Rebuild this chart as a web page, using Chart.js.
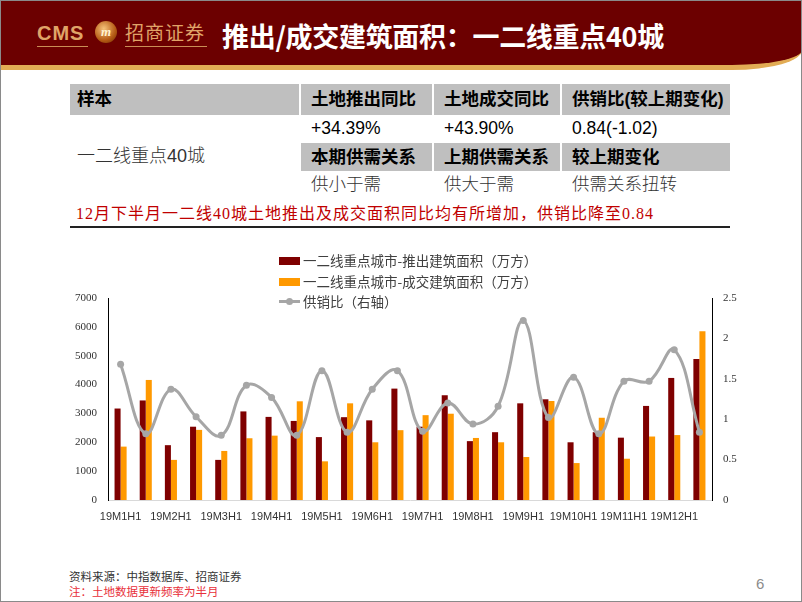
<!DOCTYPE html>
<html>
<head>
<meta charset="utf-8">
<script src="https://cdn.jsdelivr.net/npm/chart.js@4.4.1/dist/chart.umd.min.js"></script>
<style>
  html, body { margin: 0; padding: 0; }
  body {
    width: 802px; height: 602px; position: relative; overflow: hidden; background: #fff;
    font-family: "Liberation Sans", "Noto Sans CJK SC", sans-serif;
  }
  .abs { position: absolute; white-space: nowrap; }
  .frame { left: 0; top: 0; width: 800px; height: 600px; border: 1px solid #8a8a8a; }
  .band {
    left: 0; top: 0; width: 802px; height: 65px; background: #6c0000;
    border-bottom: 5px solid #e2ac55; border-bottom-right-radius: 70px 20px;
  }
  .cms { left: 37px; top: 21px; font: bold 20px "Liberation Sans"; color: #e0a468; letter-spacing: 1px; line-height: 24px; }
  .emblem {
    left: 95px; top: 21px; width: 22px; height: 22px; border-radius: 50%;
    background: radial-gradient(circle at 40% 35%, #f6c27a, #b55a14 60%, #6a2a00);
    color: #fff3d0; font: italic bold 13px "Liberation Serif"; text-align: center; line-height: 22px;
  }
  .zs { left: 125px; top: 20px; font: 19px "Noto Sans CJK SC"; color: #e0a468; line-height: 24px; letter-spacing: 1px; }
  .uline { height: 1px; background: #c98e55; top: 46px; }
  .title { left: 222px; top: 18px; font: bold 27px "Noto Sans CJK SC"; color: #fff; line-height: 36px; letter-spacing: -0.3px; }
  .cell { font-size: 17.5px; line-height: 28px; padding-left: 10px; box-sizing: border-box; color: #000; }
  .gray { background: #bfbfbf; }
  .hd { font-weight: bold; }
  .lt { font-weight: 300; color: #333; }
  .note { left: 76px; top: 203px; font: 16px "Liberation Serif", "Noto Sans CJK SC"; color: #c00000; letter-spacing: 1px; line-height: 22px; }
  .rule { left: 70px; top: 226px; width: 660px; height: 2px; background: #222; }
  .legend { left: 279px; font-size: 13.5px; color: #404040; line-height: 18px; font-family: "Noto Sans CJK SC"; }
  .legend i { display: inline-block; width: 21px; height: 8px; margin-right: 3px; vertical-align: 1px; }
  .legend b { display: inline-block; position: relative; width: 21px; height: 3px; background: #a6a6a6; margin-right: 3px; vertical-align: 4px; }
  .legend b:after { content: ""; position: absolute; left: 7px; top: -2.5px; width: 7px; height: 7px; border-radius: 50%; background: #a6a6a6; }
  .src { left: 69px; font: 11.5px "Liberation Serif", "Noto Sans CJK SC"; line-height: 14px; }
  #chart { position: absolute; left: 0; top: 240px; }
</style>
</head>
<body>
<div class="abs band"></div>
<div class="abs cms">CMS</div>
<div class="abs uline" style="left:37px;width:51px"></div>
<div class="abs emblem">m</div>
<div class="abs zs">招商证券</div>
<div class="abs uline" style="left:125px;width:82px"></div>
<div class="abs title">推出/成交建筑面积：一二线重点40城</div>

<div class="abs cell gray hd" style="left:70px;top:84px;width:229px;height:31px;line-height:31px;padding-left:7px">样本</div>
<div class="abs cell gray hd" style="left:301px;top:84px;width:131px;height:31px;line-height:31px">土地推出同比</div>
<div class="abs cell gray hd" style="left:434px;top:84px;width:126px;height:31px;line-height:31px">土地成交同比</div>
<div class="abs cell gray hd" style="left:562px;top:84px;width:168px;height:31px;line-height:31px">供销比(较上期变化)</div>

<div class="abs cell" style="left:301px;top:114px;width:131px">+34.39%</div>
<div class="abs cell" style="left:434px;top:114px;width:126px">+43.90%</div>
<div class="abs cell" style="left:562px;top:114px;width:168px">0.84(-1.02)</div>

<div class="abs cell lt" style="left:70px;top:142px;width:229px;padding-left:7px;font-size:18px">一二线重点40城</div>

<div class="abs cell gray hd" style="left:301px;top:143px;width:131px">本期供需关系</div>
<div class="abs cell gray hd" style="left:434px;top:143px;width:126px">上期供需关系</div>
<div class="abs cell gray hd" style="left:562px;top:143px;width:168px">较上期变化</div>

<div class="abs cell lt" style="left:301px;top:170px;width:131px">供小于需</div>
<div class="abs cell lt" style="left:434px;top:170px;width:126px">供大于需</div>
<div class="abs cell lt" style="left:562px;top:170px;width:168px">供需关系扭转</div>

<div class="abs note">12月下半月一二线40城土地推出及成交面积同比均有所增加，供销比降至0.84</div>
<div class="abs rule"></div>

<canvas id="chart" width="802" height="295"></canvas>

<div class="abs legend" style="top:251px"><i style="background:#7f0000"></i>一二线重点城市-推出建筑面积（万方）</div>
<div class="abs legend" style="top:272px"><i style="background:#ff9900"></i>一二线重点城市-成交建筑面积（万方）</div>
<div class="abs legend" style="top:292px"><b></b>供销比（右轴）</div>

<div class="abs src" style="top:570px;color:#333">资料来源：中指数据库、招商证券</div>
<div class="abs src" style="top:585px;color:#e8303a">注：土地数据更新频率为半月</div>
<div class="abs" style="left:756px;top:575px;font:15px 'Liberation Sans';color:#8c8c8c">6</div>
<div class="abs frame"></div>

<script>
const categories = [
  "19M1H1", "19M1H2", "19M2H1", "19M2H2", "19M3H1", "19M3H2",
  "19M4H1", "19M4H2", "19M5H1", "19M5H2", "19M6H1", "19M6H2",
  "19M7H1", "19M7H2", "19M8H1", "19M8H2", "19M9H1", "19M9H2",
  "19M10H1", "19M10H2", "19M11H1", "19M11H2", "19M12H1", "19M12H2"
];

// 推出建筑面积（万方）
const supplyArea = [3170, 3450, 1900, 2540, 1390, 3070, 2880, 2740, 2180, 2870, 2760, 3860,
                    2540, 3630, 2040, 2350, 3350, 3490, 2000, 2350, 2160, 3260, 4230, 4890];
// 成交建筑面积（万方）
const dealArea = [1850, 4160, 1390, 2430, 1700, 2140, 2230, 3420, 1340, 3350, 2000, 2420,
                  2940, 2990, 2150, 2000, 1490, 3430, 1280, 2850, 1430, 2200, 2250, 5850];
// 供销比（右轴）
const supplyRatio = [1.68, 0.82, 1.37, 1.03, 0.80, 1.42, 1.27, 0.80, 1.60, 0.84, 1.37, 1.60,
                     0.85, 1.20, 0.94, 1.16, 2.22, 1.02, 1.52, 0.82, 1.47, 1.47, 1.86, 0.84];

const leftMax = 7000;
const rightMax = 2.5;

const axisFont = { family: "Liberation Serif", size: 11 };

new Chart(document.getElementById("chart"), {
  type: "bar",
  data: {
    labels: categories,
    datasets: [
      { type: "line", label: "供销比（右轴）", data: supplyRatio, yAxisID: "y1", order: 0,
        borderColor: "#a6a6a6", backgroundColor: "#a6a6a6", borderWidth: 3, tension: 0.4,
        pointRadius: 3.5, pointBackgroundColor: "#a6a6a6", pointBorderWidth: 0 },
      { label: "一二线重点城市-推出建筑面积（万方）", data: supplyArea, yAxisID: "y", order: 1,
        backgroundColor: "#7f0000", categoryPercentage: 0.48, barPercentage: 1 },
      { label: "一二线重点城市-成交建筑面积（万方）", data: dealArea, yAxisID: "y", order: 2,
        backgroundColor: "#ff9900", categoryPercentage: 0.48, barPercentage: 1 }
    ]
  },
  options: {
    responsive: false,
    animation: false,
    devicePixelRatio: 1,
    layout: { padding: { top: 58, left: 0, right: 0, bottom: 0 } },
    scales: {
      x: {
        grid: { display: false, drawTicks: false },
        border: { color: "#d9d9d9" },
        ticks: {
          autoSkip: false, maxRotation: 0, padding: 10, color: "#333",
          font: { family: "Liberation Sans", size: 11 },
          callback: (v, i) => (i % 2 === 0 ? categories[i] : "")
        },
        afterFit: (scale) => { scale.height = 35; }
      },
      y: {
        position: "left", min: 0, max: leftMax,
        grid: { display: false, drawTicks: false },
        border: { color: "#000" },
        ticks: { stepSize: 1000, padding: 11, color: "#333", font: axisFont, callback: (v) => String(v) },
        afterFit: (scale) => { scale.width = 108; }
      },
      y1: {
        position: "right", min: 0, max: rightMax,
        grid: { display: false, drawTicks: false },
        border: { color: "#000" },
        ticks: { stepSize: 0.5, padding: 11, color: "#333", font: axisFont, callback: (v) => String(v) },
        afterFit: (scale) => { scale.width = 90; }
      }
    },
    plugins: { legend: { display: false }, tooltip: { enabled: false } }
  }
});
</script>
</body>
</html>
